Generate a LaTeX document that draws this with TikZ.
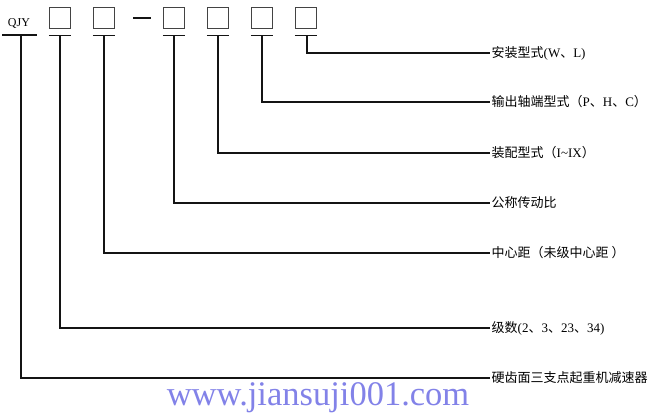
\documentclass[tikz,border=0pt]{standalone}
\usepackage{fontspec}
\setmainfont{Liberation Serif}
\newfontfamily\cjk{Noto Sans CJK SC}
\definecolor{wm}{RGB}{130,130,232}
\definecolor{ln}{RGB}{20,20,20}
\begin{document}
\begin{tikzpicture}[x=1pt,y=-1pt,
  boxst/.style={draw=ln!80, line width=1.2pt, minimum width=21pt, minimum height=21pt, inner sep=0pt},
  wire/.style={draw=ln, line width=1.2pt},
  lbl/.style={anchor=west, inner sep=1.5pt, font=\fontsize{13}{13}\selectfont},
]
\useasboundingbox (0,0) rectangle (650,418);
% prefix
\node[font=\fontsize{12}{12}\selectfont, inner sep=0pt] (q) at (19,23) {QJY};
% boxes
\node[boxst] (b1) at (60,18) {};
\node[boxst] (b2) at (104,18) {};
\node[boxst] (b3) at (174,18) {};
\node[boxst] (b4) at (218,18) {};
\node[boxst] (b5) at (262,18) {};
\node[boxst] (b6) at (306,18) {};
\coordinate (d1) at (133,18);
\coordinate (d2) at (151,18);
\draw[wire] (d1) -- (d2);
% underline tick coordinates
\coordinate (u0a) at (2,35);  \coordinate (u0b) at (37,35); \coordinate (t0) at (21,35);
\coordinate (t1) at (60,35);
\coordinate (t2) at (104,35);
\coordinate (t3) at (174,35);
\coordinate (t4) at (218,35);
\coordinate (t5) at (262,35);
\coordinate (t6) at (307,35);
\draw[wire] (u0a) -- (u0b);
\foreach \b in {b1,b2,b3,b4,b5,b6}{
  \draw[wire] ([yshift=-6.5pt]\b.south west) -- ([yshift=-6.5pt]\b.south east);
}
% labels
\node[lbl] (l6) at (490,53) {{\cjk 安装型式}(W{\cjk 、}L)};
\node[lbl] (l5) at (490,102) {{\cjk 输出轴端型式（}P{\cjk 、}H{\cjk 、}C{\cjk ）}};
\node[lbl] (l4) at (490,153) {{\cjk 装配型式（}I\textasciitilde IX{\cjk ）}};
\node[lbl] (l3) at (490,203) {{\cjk 公称传动比}};
\node[lbl] (l2) at (490,253) {{\cjk 中心距（未级中心距 ）}};
\node[lbl] (l1) at (490,328) {{\cjk 级数}(2{\cjk 、}3{\cjk 、}23{\cjk 、}34)};
\node[lbl] (l0) at (490,378) {{\cjk 硬齿面三支点起重机减速器}};
% connectors
\draw[wire] (t6) |- (l6.west);
\draw[wire] (t5) |- (l5.west);
\draw[wire] (t4) |- (l4.west);
\draw[wire] (t3) |- (l3.west);
\draw[wire] (t2) |- (l2.west);
\draw[wire] (t1) |- (l1.west);
\draw[wire] (t0) |- (l0.west);
% watermark
\node[text=wm, font=\fontsize{34.5}{34.5}\selectfont, inner sep=0pt] (wmk) at (318,398) {www.jiansuji001.com};
\end{tikzpicture}
\end{document}
